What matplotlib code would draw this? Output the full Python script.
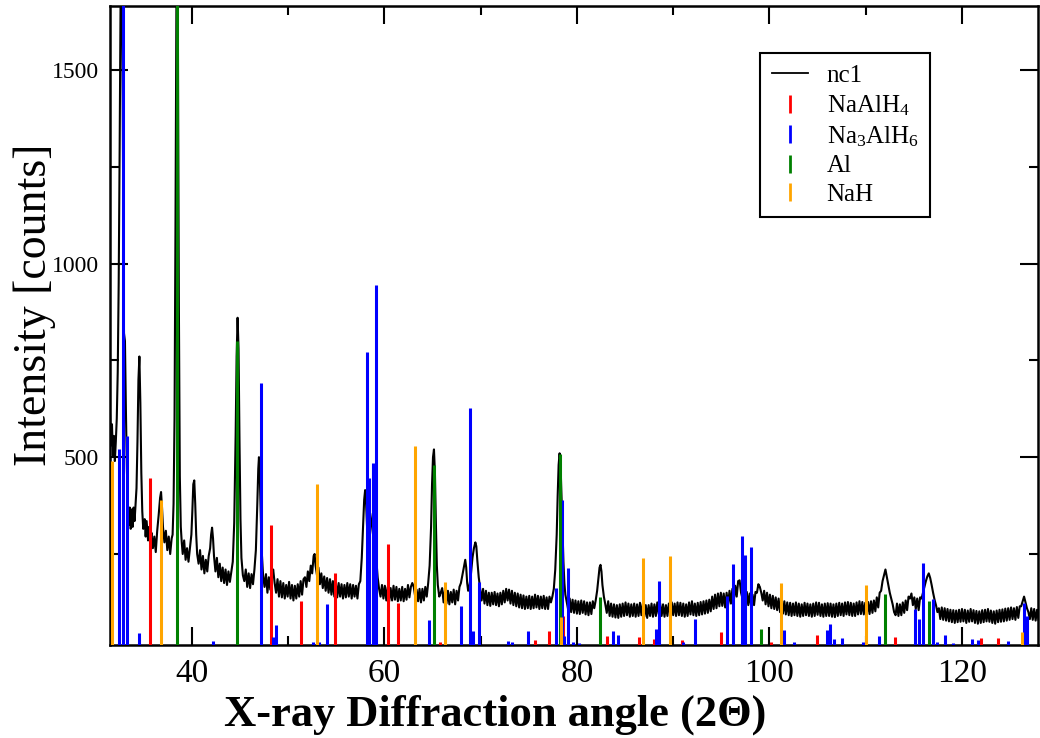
import matplotlib
matplotlib.use("Agg")
import matplotlib.pyplot as plt
from matplotlib.lines import Line2D

plt.rcParams['font.family'] = ['Liberation Serif', 'DejaVu Serif']
plt.rcParams['mathtext.fontset'] = 'custom'
plt.rcParams['mathtext.rm'] = 'Liberation Serif'
plt.rcParams['mathtext.it'] = 'Liberation Serif'

scan_2theta = [
    31.5, 31.6, 31.7, 31.8, 31.9, 32.0, 32.1, 32.2, 32.3, 32.4, 32.5, 32.6, 32.7, 32.8, 32.9,
    32.95, 33.05, 33.15, 33.25, 33.35, 33.45, 33.55, 33.65, 33.75, 33.85, 33.95, 34.05, 34.15,
    34.25, 34.35, 34.45, 34.55, 34.65, 34.75, 34.85, 34.95, 35.1, 35.2, 35.3, 35.45, 35.55, 35.7,
    35.8, 35.95, 36.1, 36.25, 36.4, 36.55, 36.7, 36.8, 36.9, 37.0, 37.15, 37.3, 37.45, 37.6,
    37.75, 37.9, 38.0, 38.1, 38.2, 38.3, 38.4, 38.47, 38.55, 38.65, 38.75, 38.85, 38.95, 39.05,
    39.2, 39.35, 39.5, 39.65, 39.8, 39.95, 40.05, 40.15, 40.25, 40.35, 40.45, 40.55, 40.7, 40.85,
    41.0, 41.15, 41.3, 41.45, 41.6, 41.75, 41.9, 42.0, 42.1, 42.2, 42.3, 42.45, 42.6, 42.75, 42.9,
    43.05, 43.2, 43.35, 43.5, 43.65, 43.8, 43.95, 44.1, 44.25, 44.4, 44.55, 44.65, 44.75, 44.85,
    44.95, 45.05, 45.15, 45.3, 45.45, 45.6, 45.75, 45.9, 46.05, 46.2, 46.35, 46.5, 46.65, 46.8,
    46.9, 46.97, 47.05, 47.15, 47.25, 47.4, 47.55, 47.7, 47.85, 48.0, 48.15, 48.3, 48.45, 48.6,
    48.75, 48.9, 49.05, 49.2, 49.35, 49.5, 49.65, 49.8, 49.95, 50.1, 50.25, 50.4, 50.55, 50.7,
    50.85, 51.0, 51.15, 51.3, 51.45, 51.6, 51.75, 51.9, 52.05, 52.2, 52.35, 52.5, 52.65, 52.75,
    52.85, 53.0, 53.15, 53.3, 53.45, 53.6, 53.75, 53.9, 54.05, 54.2, 54.35, 54.5, 54.65, 54.8,
    54.95, 55.1, 55.25, 55.4, 55.55, 55.7, 55.85, 56.0, 56.15, 56.3, 56.45, 56.6, 56.75, 56.9,
    57.05, 57.2, 57.35, 57.5, 57.65, 57.8, 57.9, 58.0, 58.1, 58.2, 58.35, 58.5, 58.65, 58.8,
    58.95, 59.05, 59.15, 59.3, 59.45, 59.6, 59.75, 59.9, 60.05, 60.2, 60.35, 60.5, 60.65, 60.8,
    60.95, 61.1, 61.25, 61.4, 61.55, 61.7, 61.85, 62.0, 62.15, 62.3, 62.45, 62.6, 62.75, 62.9,
    63.05, 63.2, 63.35, 63.5, 63.65, 63.8, 63.95, 64.1, 64.25, 64.4, 64.55, 64.7, 64.85, 64.95,
    65.05, 65.15, 65.25, 65.35, 65.45, 65.55, 65.7, 65.85, 66.0, 66.15, 66.3, 66.45, 66.6, 66.75,
    66.9, 67.05, 67.2, 67.35, 67.5, 67.65, 67.8, 67.95, 68.1, 68.25, 68.4, 68.5, 68.6, 68.7,
    68.85, 69.0, 69.15, 69.3, 69.45, 69.55, 69.65, 69.8, 69.95, 70.1, 70.25, 70.4, 70.55, 70.7,
    70.85, 71.0, 71.15, 71.3, 71.45, 71.6, 71.75, 71.9, 72.05, 72.2, 72.35, 72.5, 72.65, 72.8,
    72.95, 73.1, 73.25, 73.4, 73.55, 73.7, 73.85, 74.0, 74.15, 74.3, 74.45, 74.6, 74.75, 74.9,
    75.05, 75.2, 75.35, 75.5, 75.65, 75.8, 75.95, 76.1, 76.25, 76.4, 76.55, 76.7, 76.85, 77.0,
    77.15, 77.3, 77.45, 77.6, 77.75, 77.9, 78.0, 78.1, 78.2, 78.3, 78.4, 78.5, 78.6, 78.7,
    78.8, 78.95, 79.1, 79.25, 79.4, 79.55, 79.7, 79.85, 80.0, 80.15, 80.3, 80.45, 80.6, 80.75,
    80.9, 81.05, 81.2, 81.35, 81.5, 81.65, 81.8, 81.95, 82.1, 82.25, 82.35, 82.45, 82.55, 82.65,
    82.8, 82.95, 83.1, 83.25, 83.4, 83.55, 83.7, 83.85, 84.0, 84.15, 84.3, 84.45, 84.6, 84.75,
    84.9, 85.05, 85.2, 85.35, 85.5, 85.65, 85.8, 85.95, 86.1, 86.25, 86.4, 86.55, 86.7, 86.85,
    87.0, 87.15, 87.3, 87.45, 87.6, 87.75, 87.9, 88.05, 88.2, 88.35, 88.5, 88.65, 88.8, 88.95,
    89.1, 89.25, 89.4, 89.55, 89.7, 89.85, 90.0, 90.15, 90.3, 90.45, 90.6, 90.75, 90.9, 91.05,
    91.2, 91.35, 91.5, 91.65, 91.8, 91.95, 92.1, 92.25, 92.4, 92.55, 92.7, 92.85, 93.0, 93.15,
    93.3, 93.45, 93.6, 93.75, 93.9, 94.05, 94.2, 94.35, 94.5, 94.65, 94.8, 94.95, 95.1, 95.25,
    95.4, 95.55, 95.7, 95.85, 96.0, 96.15, 96.3, 96.45, 96.6, 96.75, 96.9, 97.05, 97.2, 97.35,
    97.5, 97.65, 97.8, 97.95, 98.1, 98.25, 98.4, 98.55, 98.7, 98.85, 99.0, 99.15, 99.3, 99.45,
    99.6, 99.75, 99.9, 100.05, 100.2, 100.35, 100.5, 100.65, 100.8, 100.95, 101.1, 101.25,
    101.4, 101.55, 101.7, 101.85, 102.0, 102.15, 102.3, 102.45, 102.6, 102.75, 102.9, 103.05,
    103.2, 103.35, 103.5, 103.65, 103.8, 103.95, 104.1, 104.25, 104.4, 104.55, 104.7, 104.85,
    105.0, 105.15, 105.3, 105.45, 105.6, 105.75, 105.9, 106.05, 106.2, 106.35, 106.5, 106.65,
    106.8, 106.95, 107.1, 107.25, 107.4, 107.55, 107.7, 107.85, 108.0, 108.15, 108.3, 108.45,
    108.6, 108.75, 108.9, 109.05, 109.2, 109.35, 109.5, 109.65, 109.8, 109.95, 110.1, 110.25,
    110.4, 110.55, 110.7, 110.85, 111.0, 111.15, 111.3, 111.45, 111.6, 111.75, 111.9, 112.05,
    112.2, 112.35, 112.5, 112.65, 112.8, 112.95, 113.1, 113.25, 113.4, 113.55, 113.7, 113.85,
    114.0, 114.15, 114.3, 114.45, 114.6, 114.75, 114.9, 115.05, 115.2, 115.35, 115.5, 115.65,
    115.8, 115.95, 116.1, 116.25, 116.4, 116.55, 116.7, 116.85, 117.0, 117.15, 117.3, 117.45,
    117.6, 117.75, 117.9, 118.05, 118.2, 118.35, 118.5, 118.65, 118.8, 118.95, 119.1, 119.25,
    119.4, 119.55, 119.7, 119.85, 120.0, 120.15, 120.3, 120.45, 120.6, 120.75, 120.9, 121.05,
    121.2, 121.35, 121.5, 121.65, 121.8, 121.95, 122.1, 122.25, 122.4, 122.55, 122.7, 122.85,
    123.0, 123.15, 123.3, 123.45, 123.6, 123.75, 123.9, 124.05, 124.2, 124.35, 124.5, 124.65,
    124.8, 124.95, 125.1, 125.25, 125.4, 125.55, 125.7, 125.85, 126.0, 126.15, 126.3, 126.45,
    126.6, 126.75, 126.9, 127.05, 127.2, 127.35, 127.5, 127.65, 127.8, 127.95,
]
scan_counts = [
    610, 530, 585, 505, 555, 490, 540, 600, 720, 950, 1300, 1700, 1900, 1500, 1000,
    820, 800, 620, 470, 380, 325, 370, 315, 365, 320, 370, 335, 380,
    420, 540, 700, 760, 640, 460, 360, 315, 340, 295, 335, 285, 320, 280,
    305, 265, 295, 255, 310, 350, 395, 410, 370, 320, 280, 310, 260, 295,
    250, 290, 300, 380, 600, 1100, 1700, 1900, 1600, 900, 450, 320, 280, 250,
    285, 235, 265, 230, 265, 300, 360, 430, 440, 380, 300, 250, 225, 260,
    210, 245, 200, 235, 205, 245, 265, 300, 318, 290, 245, 205, 240, 190, 225,
    180, 215, 175, 210, 170, 205, 178, 205, 230, 330, 560, 760, 860, 780,
    540, 340, 240, 195, 180, 210, 165, 200, 162, 198, 172, 210, 260, 380,
    470, 500, 460, 360, 260, 195, 165, 198, 150, 190, 158, 195, 210, 175,
    150, 185, 140, 180, 138, 175, 135, 170, 140, 178, 135, 170, 130, 168,
    135, 172, 140, 180, 145, 185, 190, 165, 205, 180, 220, 200, 245, 250,
    220, 195, 215, 172, 200, 162, 192, 155, 188, 150, 185, 145, 180, 140,
    178, 138, 175, 140, 172, 135, 170, 138, 175, 140, 172, 135, 170, 140,
    168, 135, 172, 180, 240, 330, 390, 415, 380, 320, 280, 300, 330, 355,
    350, 300, 240, 190, 160, 140, 170, 135, 168, 130, 165, 128, 162, 130,
    168, 132, 165, 128, 160, 130, 165, 128, 160, 132, 170, 138, 165, 175,
    165, 140, 158, 128, 160, 125, 160, 130, 165, 140, 175, 220, 320, 430,
    500, 520, 460, 330, 220, 170, 140, 150, 162, 125, 158, 122, 155, 120,
    152, 125, 158, 120, 155, 130, 165, 175, 195, 215, 235, 215, 175, 155,
    170, 200, 240, 265, 280, 270, 235, 190, 160, 130, 160, 122, 155, 118,
    150, 116, 150, 120, 152, 118, 148, 115, 150, 120, 155, 125, 160, 130,
    158, 122, 155, 118, 150, 115, 148, 112, 145, 110, 143, 108, 140, 110,
    142, 108, 140, 110, 145, 112, 142, 108, 140, 110, 142, 108, 138, 108,
    140, 125, 140, 160, 210, 300, 400, 480, 510, 480, 400, 310, 230, 175,
    145, 125, 105, 135, 100, 132, 98, 130, 96, 128, 95, 130, 98, 128,
    94, 125, 92, 125, 95, 128, 110, 130, 155, 190, 215, 222, 205, 170,
    140, 120, 98, 128, 90, 122, 88, 120, 86, 118, 85, 120, 88, 122,
    90, 125, 92, 122, 88, 120, 90, 122, 88, 120, 90, 124, 92, 122,
    88, 118, 85, 118, 90, 122, 88, 120, 90, 125, 95, 122, 90, 120,
    88, 118, 90, 122, 94, 125, 92, 122, 90, 125, 92, 124, 90, 122,
    88, 120, 90, 125, 94, 128, 92, 122, 90, 124, 92, 126, 94, 128,
    96, 130, 98, 132, 102, 140, 108, 145, 110, 148, 115, 150, 116, 148,
    112, 150, 118, 155, 122, 160, 130, 168, 140, 180, 182, 150, 135, 160,
    125, 152, 118, 148, 115, 145, 118, 152, 150, 172, 165, 150, 130, 155,
    120, 150, 115, 145, 110, 142, 108, 138, 105, 135, 100, 130,
    96, 128, 94, 125, 92, 124, 90, 122, 92, 125, 90, 122,
    88, 120, 90, 124, 92, 122, 90, 120, 88, 122, 90, 125,
    93, 124, 90, 120, 88, 122, 90, 123, 90, 122, 88, 120,
    87, 122, 90, 124, 92, 122, 90, 125, 94, 126, 92, 124,
    90, 122, 90, 125, 94, 128, 95, 126, 94, 124, 92, 126,
    95, 128, 98, 130, 102, 138, 112, 150, 155, 180, 195, 210,
    190, 170, 150, 135, 120, 100, 92, 122, 90, 120, 92, 125,
    98, 130, 105, 140, 135, 148, 118, 138, 108, 135, 105, 138,
    135, 150, 165, 180, 192, 200, 188, 170, 150, 132, 118, 100,
    110, 82, 112, 80, 110, 78, 108, 76, 106, 74, 105, 72,
    104, 74, 106, 75, 108, 76, 106, 72, 104, 75, 108, 76,
    105, 72, 103, 70, 102, 72, 105, 74, 106, 76, 108, 75,
    104, 72, 102, 70, 104, 74, 106, 75, 107, 76, 109, 78,
    110, 80, 112, 82, 110, 80, 113, 85, 115, 115, 128, 140,
    125, 110, 100, 82, 110, 80, 108, 78, 106, 80,
]

# reference stick patterns
naalh4_pos = [35.6, 48.27, 51.3, 54.9, 60.35, 61.46, 65.75, 75.6, 77.1, 78.56, 83.16, 86.45,
              88.0, 90.95, 94.97, 100.2, 104.97, 113.07, 122.0, 123.7]
naalh4_int = [447, 324, 128, 200, 275, 124, 22, 28, 51, 90, 38, 35,
              30, 28, 49, 22, 40, 35, 34, 34]

na3alh6_pos = [32.45, 32.83, 33.27, 34.56, 42.2, 47.15, 48.4, 48.7, 52.6, 53.2, 54.03, 58.17,
               58.38, 58.83, 59.17, 64.67, 68.0, 68.85, 69.22, 69.82, 72.8, 73.25, 74.97,
               77.83, 78.4, 78.7, 79.1, 79.55, 80.25, 83.72, 84.22, 88.17, 88.5, 91.05, 92.22,
               95.55, 96.25, 97.15, 97.42, 98.13, 101.5, 102.6, 105.95, 106.3, 106.68, 107.5,
               109.7, 111.4, 115.12, 115.55, 115.9, 117.0, 117.4, 118.2, 119.1, 121.08,
               121.65, 124.8, 126.48, 126.78]
na3alh6_int = [520, 1900, 555, 45, 25, 692, 35, 67, 22, 24, 120, 771,
               447, 485, 945, 79, 116, 627, 50, 178, 26, 22, 52,
               163, 390, 38, 215, 22, 20, 50, 42, 57, 180, 22, 81,
               142, 224, 297, 247, 268, 53, 22, 53, 68, 30, 32,
               24, 38, 107, 83, 228, 135, 22, 41, 20, 30,
               28, 25, 123, 90]

al_pos = [38.47, 44.74, 65.13, 78.23, 82.44, 99.08, 112.04, 116.57]
al_int = [1900, 800, 480, 509, 139, 56, 147, 129]

nah_pos = [31.74, 36.8, 53.03, 63.14, 66.3, 78.3, 86.85, 89.7, 101.2, 110.0, 126.2]
nah_int = [490, 390, 431, 529, 177, 87, 240, 245, 176, 170, 48]

phases = [
    ('NaAlH$_4$', naalh4_pos, naalh4_int, '#ff0000'),
    ('Na$_3$AlH$_6$', na3alh6_pos, na3alh6_int, '#0000ff'),
    ('Al', al_pos, al_int, '#008000'),
    ('NaH', nah_pos, nah_int, '#ffa500'),
]

fig = plt.figure(figsize=(10.4, 7.38), dpi=100)
ax = fig.add_axes([0.1058, 0.126, 0.8923, 0.8659])

ax.plot(scan_2theta, scan_counts, color='black', lw=1.5, zorder=2)
handles = [Line2D([], [], color='black', lw=1.3, label='nc1')]
for name, pos, inten, col in phases:
    ax.vlines(pos, 0, inten, colors=col, lw=2.2, zorder=3)
    handles.append(Line2D([], [], color=col, marker='|', linestyle='None',
                          markersize=13, markeredgewidth=2, label=name))

ax.set_xlim(31.5, 127.9)
ax.set_ylim(15, 1665)
ax.set_xticks([40, 60, 80, 100, 120])
ax.set_xticks([50, 70, 90, 110], minor=True)
ax.set_yticks([500, 1000, 1500])
ax.set_yticks([250, 750, 1250], minor=True)
ax.tick_params(which='both', direction='in', top=True, right=True, width=1.5)
ax.tick_params(which='major', length=13)
ax.tick_params(which='minor', length=6.5)
ax.tick_params(axis='x', labelsize=24, pad=10)
ax.tick_params(axis='y', labelsize=17, pad=8)
for sp in ax.spines.values():
    sp.set_linewidth(1.8)

fig.text(0.476, 0.031, 'X-ray Diffraction angle (2\u0398)', fontsize=32, fontweight='bold',
         ha='center', va='center')
fig.text(0.033, 0.587, 'Intensity [counts]', fontsize=33, rotation=90,
         ha='center', va='center')

leg = ax.legend(handles=handles, loc='upper right', bbox_to_anchor=(0.8836, 0.926),
                fontsize=18, fancybox=False, framealpha=1, edgecolor='black',
                handlelength=1.45, handletextpad=0.75, labelspacing=0.25,
                borderpad=0.45, borderaxespad=0)
leg.get_frame().set_linewidth(1.5)

fig.savefig('out.png', dpi=100)
